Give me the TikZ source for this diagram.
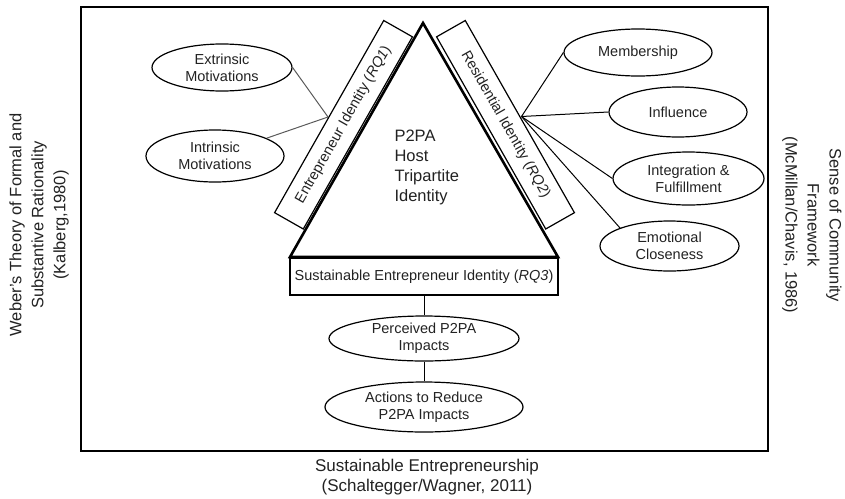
\documentclass[tikz,border=0pt]{standalone}
\usepackage{fontspec}
\setmainfont{Liberation Sans}
\usetikzlibrary{shapes.geometric}
\definecolor{ink}{HTML}{222222}
\definecolor{wire}{HTML}{5a5a5a}

\begin{document}
\begin{tikzpicture}[x=1pt,y=-1pt,
  lbl/.style={font=\fontsize{14.5}{17}\selectfont, text=ink, align=center},
  bubble/.style={ellipse, draw, line width=1.2pt, inner sep=0pt, lbl},
  idbox/.style={rectangle, draw, line width=1.2pt, inner sep=0pt, lbl},
  link/.style={line width=1pt},
  side/.style={font=\fontsize{16.5}{22}\selectfont, text=ink, align=center}]

\useasboundingbox (0,0) rectangle (845,498);

% outer frame
\draw[line width=1.3pt] (81,7) rectangle (768,451);

% identity bands along the two slanted sides
\node[idbox, minimum width=221pt, minimum height=33pt, rotate=60.4] (ent)
  at (343.5,124.75) {Entrepreneur Identity (\textit{RQ1})};
\node[idbox, minimum width=221pt, minimum height=33pt, rotate=-60.4] (res)
  at (505.5,124.75) {Residential Identity (\textit{RQ2})};

% base band
\node[idbox, minimum width=268pt, minimum height=37pt, line width=1.4pt] (sei)
  at (424,276.5) {Sustainable Entrepreneur Identity (\textit{RQ3})};

% central triangle
\coordinate (apex) at (423,23);
\coordinate (bl) at (290,257);
\coordinate (br) at (558,257);
\draw[line width=2.6pt, line join=miter] (apex) -- (br) -- (bl) -- cycle;
\node[font=\fontsize{16.5}{20}\selectfont, text=ink, align=left, anchor=west] (tri)
  at (391,167) {P2PA\\Host\\Tripartite\\Identity};

% motivation and community ellipses
\node[bubble, minimum width=140pt, minimum height=47pt] (ext) at (222,67.5) {Extrinsic\\Motivations};
\node[bubble, minimum width=138pt, minimum height=52pt] (intr) at (215,156) {Intrinsic\\Motivations};
\node[bubble, minimum width=148pt, minimum height=47pt] (mem) at (638,52.5) {Membership};
\node[bubble, minimum width=138pt, minimum height=50pt] (inf) at (678,112) {Influence};
\node[bubble, minimum width=151pt, minimum height=53pt] (integ) at (688.5,178.5) {Integration \&\\Fulfillment};
\node[bubble, minimum width=139pt, minimum height=50pt] (emo) at (669.5,246) {Emotional\\Closeness};
\node[bubble, minimum width=190pt, minimum height=45pt] (imp) at (424,338.5) {Perceived P2PA\\Impacts};
\node[bubble, minimum width=198pt, minimum height=50pt] (act) at (424,407) {Actions to Reduce\\P2PA Impacts};

% junctions on the outer edges of the bands
\coordinate (ej) at (328,117);
\coordinate (rj) at (521.5,116.5);

% connectors
\draw[link, wire] (ext.east) -- (ej);
\draw[link, wire] (intr) -- (ej);
\draw[link] (rj) -- (mem.west);
\draw[link] (rj) -- (inf.west);
\draw[link] (rj) -- (integ.west);
\draw[link] (rj) -- (emo.north west);
\draw[link] (sei.south) -- (imp.north);
\draw[link] (imp.south) -- (act.north);

% framing theories
\node[side, rotate=90] (weber) at (39,225)
  {Weber’s Theory of Formal and\\Substantive Rationality\\(Kalberg,1980)};
\node[side, rotate=-90] (mcm) at (812,225)
  {Sense of Community\\Framework\\(McMillan/Chavis, 1986)};
\node[side, font=\fontsize{17}{20}\selectfont] (se) at (427,477)
  {Sustainable Entrepreneurship\\(Schaltegger/Wagner, 2011)};

\end{tikzpicture}
\end{document}
